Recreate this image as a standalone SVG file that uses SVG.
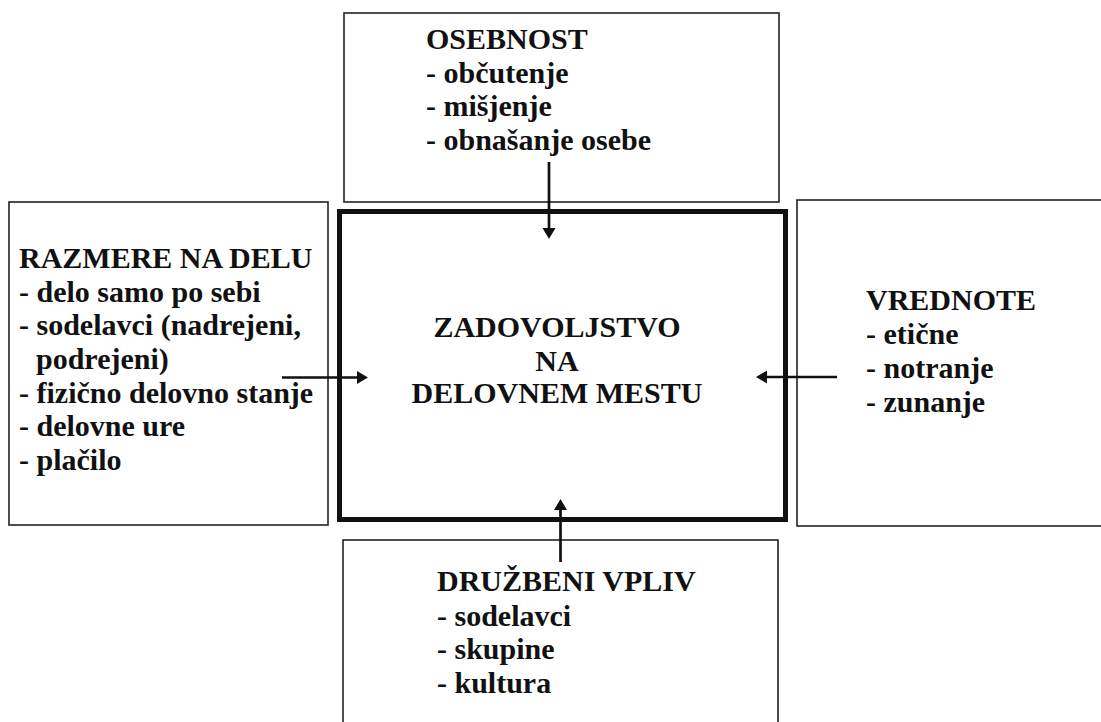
<svg xmlns="http://www.w3.org/2000/svg" width="1101" height="722" viewBox="0 0 1101 722">
<style>
.box{fill:#fff;stroke:#222;stroke-width:1.6}
.main{fill:#fff;stroke:#111;stroke-width:5}
.t{font-family:"Liberation Serif","Times New Roman",serif;font-weight:bold;font-size:30px;fill:#111}
.c{text-anchor:middle}
.ln{stroke:#111;stroke-width:2.7;fill:none}
.hd{fill:#111}
</style>
<rect width="1101" height="722" fill="#fff"/>
<g id="node-osebnost">
<rect class="box" x="344" y="13" width="435" height="189"/>
<text class="t" x="426" y="49">OSEBNOST</text>
<text class="t" x="426" y="82.5">- občutenje</text>
<text class="t" x="426" y="116">- mišjenje</text>
<text class="t" x="426" y="149.5">- obnašanje osebe</text>
</g>
<g id="node-razmere">
<rect class="box" x="9" y="202" width="319" height="323"/>
<text class="t" x="19" y="268">RAZMERE NA DELU</text>
<text class="t" x="19" y="301.5">- delo samo po sebi</text>
<text class="t" x="19" y="335">- sodelavci (nadrejeni,</text>
<text class="t" x="36" y="369">podrejeni)</text>
<text class="t" x="19" y="402.5">- fizično delovno stanje</text>
<text class="t" x="19" y="436">- delovne ure</text>
<text class="t" x="19" y="470">- plačilo</text>
</g>
<g id="node-vrednote">
<rect class="box" x="797" y="200" width="320" height="326"/>
<text class="t" x="866" y="310">VREDNOTE</text>
<text class="t" x="866" y="343.5">- etične</text>
<text class="t" x="866" y="377.5">- notranje</text>
<text class="t" x="866" y="411.5">- zunanje</text>
</g>
<g id="node-druzbeni">
<rect class="box" x="343" y="540" width="435" height="200"/>
<text class="t" x="437" y="591">DRUŽBENI VPLIV</text>
<text class="t" x="437" y="625.5">- sodelavci</text>
<text class="t" x="437" y="659">- skupine</text>
<text class="t" x="437" y="693">- kultura</text>
</g>
<g id="node-zadovoljstvo">
<rect class="main" x="339.5" y="211.5" width="446" height="308"/>
<text class="t c" x="557" y="337">ZADOVOLJSTVO</text>
<text class="t c" x="557" y="371">NA</text>
<text class="t c" x="557" y="403">DELOVNEM MESTU</text>
</g>
<g id="connectors">
<line class="ln" x1="549" y1="162" x2="549" y2="229"/>
<polygon class="hd" points="542.5,228 555.5,228 549,239"/>
<line class="ln" x1="282" y1="377.5" x2="358" y2="377.5"/>
<polygon class="hd" points="357,371 357,384 368,377.5"/>
<line class="ln" x1="837" y1="377" x2="766" y2="377"/>
<polygon class="hd" points="767,370.5 767,383.5 756,377"/>
<line class="ln" x1="560.5" y1="562" x2="560.5" y2="509"/>
<polygon class="hd" points="554,510 567,510 560.5,499"/>
</g>
</svg>
